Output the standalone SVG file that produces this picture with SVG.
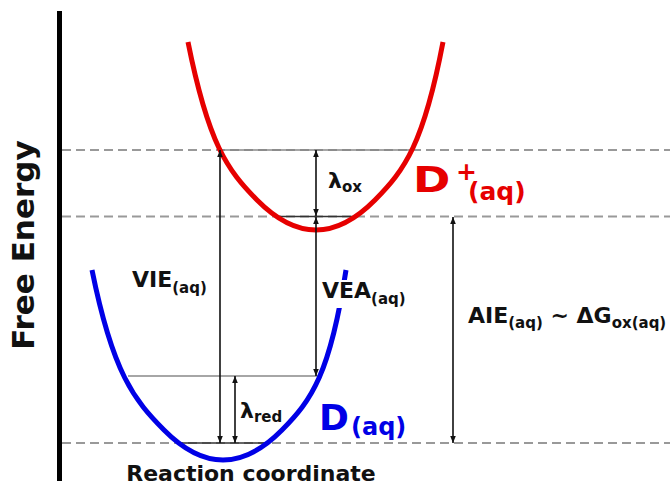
<svg xmlns="http://www.w3.org/2000/svg" width="670" height="485" viewBox="0 0 670 485">
<style>
text{font-family:"DejaVu Sans","Liberation Sans",sans-serif;font-weight:bold;fill:#111}
.lbl{font-size:22px}
.sub{font-size:15px}
.dash{stroke:#999;stroke-width:2;stroke-dasharray:9 5;fill:none}
.lvl{stroke:#888;stroke-width:1.6;fill:none}
.lvld{stroke:#333;stroke-width:1.6;fill:none}
.arr{stroke:#111;stroke-width:1.6;fill:none;marker-start:url(#ah);marker-end:url(#ah)}
.curve{fill:none;stroke-width:5;stroke-linecap:butt}
.red{fill:#e60000}
.blue{fill:#0000e6}
</style>
<defs>
<marker id="ah" viewBox="0 0 10 10" refX="10" refY="5" markerWidth="7" markerHeight="7" markerUnits="userSpaceOnUse" orient="auto-start-reverse">
<path d="M0,1 L10,5 L0,9 Z" fill="#111"/>
</marker>
</defs>
<rect width="670" height="485" fill="#fff"/>

<g id="axis">
<line x1="59.5" y1="11" x2="59.5" y2="481" stroke="#000" stroke-width="5"/>
<text transform="translate(34,245) rotate(-90)" text-anchor="middle" style="font-size:31px">Free Energy</text>
<text x="251" y="481" text-anchor="middle" style="font-size:22px">Reaction coordinate</text>
</g>

<g id="levels">
<line class="dash" x1="62" y1="150" x2="670" y2="150"/>
<line class="dash" x1="62" y1="216.5" x2="670" y2="216.5"/>
<line class="dash" x1="62" y1="443" x2="670" y2="443"/>
<line class="lvl" x1="220" y1="150" x2="413" y2="150"/>
<line class="lvld" x1="275" y1="216.5" x2="358" y2="216.5"/>
<line class="lvl" x1="128" y1="376" x2="318" y2="376"/>
<line class="lvld" x1="178" y1="443" x2="265" y2="443"/>
</g>

<g id="D_plus">
<path class="curve" stroke="#e60000" d="M188,42 C208.4,144 227.3,170 257,200 C277,220.2 296,230 316,230 C336,230 355,220.2 375,200 C404.7,170 423.6,144 443,42"/>
<text class="red" transform="translate(413,192) scale(1.25,1)" style="font-size:36px">D</text>
<text class="red" x="456" y="180" style="font-size:25px">+<tspan x="468" dy="20">(aq)</tspan></text>
</g>

<g id="D_neutral">
<path class="curve" stroke="#0000e6" d="M92,270 C113,374 134.3,400 164,430 C184,450.2 203,460 223,460 C243,460 262,450.2 282,430 C311.7,400 330,374 346,270"/>
<text class="blue" x="319" y="430" style="font-size:36px">D<tspan x="351" dy="5" style="font-size:24px">(aq)</tspan></text>
</g>

<g id="connectors">
<line class="arr" x1="220" y1="443" x2="220" y2="150"/>
<line class="arr" x1="316" y1="150" x2="316" y2="216"/>
<line class="arr" x1="316" y1="217" x2="316" y2="376"/>
<line class="arr" x1="235" y1="376" x2="235" y2="443"/>
<line class="arr" x1="453" y1="217" x2="453" y2="443"/>
</g>

<g id="labels">
<text class="lbl" x="132" y="287">VIE<tspan class="sub" dy="6">(aq)</tspan></text>
<rect x="320" y="280" width="94" height="28" fill="#fff"/>
<text class="lbl" x="322" y="298">VEA<tspan class="sub" dy="6">(aq)</tspan></text>
<text class="lbl" x="328" y="188">λ<tspan class="sub" dy="4">ox</tspan></text>
<text class="lbl" x="240" y="418">λ<tspan class="sub" dy="4">red</tspan></text>
<text class="lbl" x="468" y="323">AIE<tspan class="sub" dy="5">(aq)</tspan><tspan dy="-5"> ~ ΔG</tspan><tspan class="sub" dy="5">ox(aq)</tspan></text>
</g>
</svg>
